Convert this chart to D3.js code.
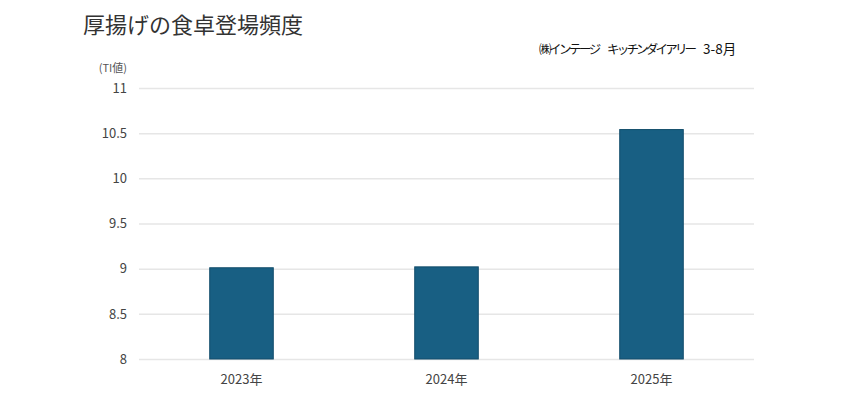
<!DOCTYPE html>
<html><head><meta charset="utf-8">
<script src="https://cdn.jsdelivr.net/npm/d3@7"></script>
<style>
body{margin:0;background:#fff;}
text{font-family:"Noto Sans CJK JP","Noto Sans",sans-serif;}
</style></head>
<body><svg id="c" width="850" height="399"></svg>
<script>
const categories = ["2023年","2024年","2025年"];
const values = [9.01, 9.02, 10.54];
const yTicks = [8, 8.5, 9, 9.5, 10, 10.5, 11];
const title = "厚揚げの食卓登場頻度";
const sourceParts = ["㈱インテージ", "キッチンダイアリー", "3-8月"];
const unit = "(TI値)";

const svg = d3.select("#c");
const m = {left:139, right:754, top:88, bottom:359};
const x = d3.scaleBand().domain(categories).range([m.left, m.right]).paddingInner(0.69).paddingOuter(0.345);
const y = d3.scaleLinear().domain([8, 11]).range([m.bottom, m.top]);

svg.append("text").attr("x",83).attr("y",33).attr("font-size",22).attr("fill","#333").text(title);

const srcLayout = [{x:539, ls:-2.5}, {x:607, ls:-2.8}, {x:703, ls:0}];
svg.append("g").selectAll("text").data(sourceParts).join("text")
  .attr("x",(d,i)=>srcLayout[i].x).attr("y",54)
  .style("letter-spacing",(d,i)=>srcLayout[i].ls+"px")
  .attr("font-size",(d,i)=>i===2?13.5:12.5).attr("fill","#111").text(d=>d);

svg.append("text").attr("x",127).attr("y",72).attr("text-anchor","end").attr("font-size",11).attr("fill","#555").text(unit);

const yAxis = d3.axisLeft(y).tickValues(yTicks).tickSize(-(m.right-m.left)).tickPadding(12).tickFormat(d3.format("~g"));
const gy = svg.append("g").attr("transform",`translate(${m.left},0)`).call(yAxis);
gy.select(".domain").remove();
gy.selectAll(".tick line").attr("stroke","#e6e6e6").attr("stroke-width",1.5);
gy.selectAll(".tick text").attr("font-size",13).attr("fill","#444");

svg.append("g").selectAll("rect").data(values).join("rect")
  .attr("x",(d,i)=>x(categories[i]))
  .attr("width",x.bandwidth())
  .attr("y",d=>y(d))
  .attr("height",d=>y(8)-y(d))
  .attr("fill","#185f83")
  .attr("stroke","#124d6b").attr("stroke-width",1);

const xAxis = d3.axisBottom(x).tickSize(0).tickPadding(16);
const gx = svg.append("g").attr("transform",`translate(0,${m.bottom})`).call(xAxis);
gx.select(".domain").remove();
gx.selectAll(".tick text").attr("font-size",13).attr("fill","#444");
</script></body></html>
